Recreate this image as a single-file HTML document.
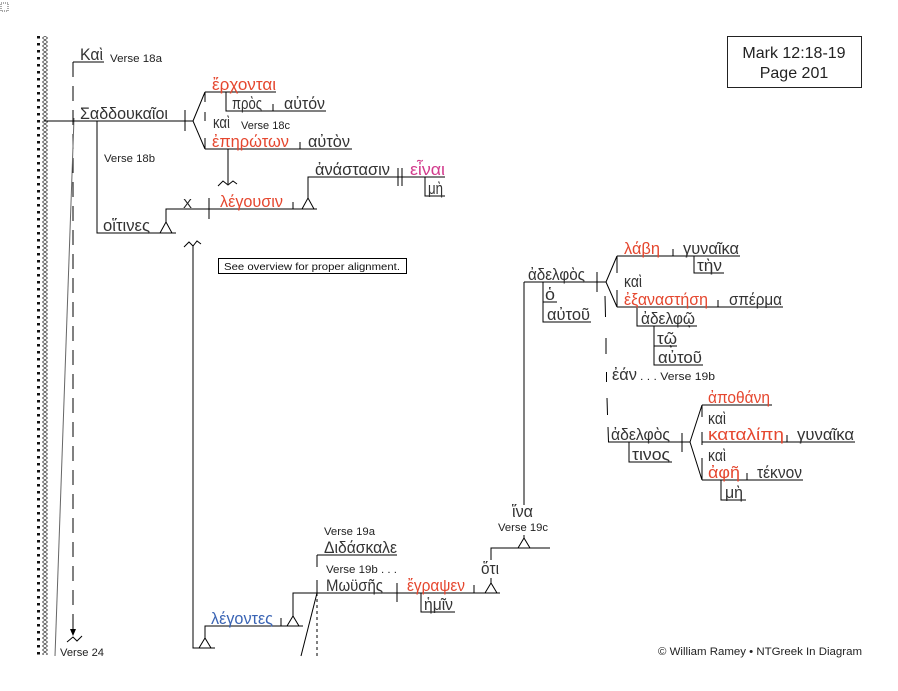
<!DOCTYPE html>
<html>
<head>
<meta charset="utf-8">
<style>
  html, body { margin: 0; padding: 0; background: #fff; }
  svg { display: block; }
  .g { font-family: "Liberation Sans", "DejaVu Sans", sans-serif; font-size: 17px; fill: #333; }
  .r { fill: #e5472f; }
  .m { fill: #d23a8c; }
  .b { fill: #3a64b4; }
  .v { font-family: "Liberation Sans", sans-serif; font-size: 11px; fill: #222; }
  .l { stroke: #000; stroke-width: 1; fill: none; }
  .t { stroke: #000; stroke-width: 1; fill: #fff; }
</style>
</head>
<body>
<svg width="898" height="691" viewBox="0 0 898 691" xmlns="http://www.w3.org/2000/svg">
  <defs>
    <pattern id="dm" width="6" height="4" patternUnits="userSpaceOnUse" x="42" y="36">
      <path d="M3 0 L5.5 2 L3 4 L0.5 2 Z" fill="none" stroke="#444" stroke-width="0.8"/>
    </pattern>
  </defs>
  <rect width="898" height="691" fill="#fff"/>

  <rect x="1" y="3" width="7" height="8" fill="none" stroke="#555" stroke-width="1" stroke-dasharray="1 1"/>

  <line x1="38.5" y1="36" x2="38.5" y2="655" stroke="#111" stroke-width="3" stroke-dasharray="2.5 4.5"/>
  <rect x="42" y="36" width="6" height="619" fill="url(#dm)"/>

  <path class="l" d="M73 62 H104"/>
  <line x1="73" y1="62" x2="73" y2="631" stroke="#000" stroke-width="1" stroke-dasharray="15 9"/>
  <polygon points="70,629 76,629 73,636" fill="#000"/>
  <polyline class="l" points="67,642 73,637 77,641 82,636"/>
  <line x1="74" y1="118" x2="55" y2="656" stroke="#666" stroke-width="1"/>

  <path class="l" d="M44 121 H193 M185 110 V131 M193 121 L205 92 M193 121 L205 149"/>
  <path class="l" d="M205 92 V102 M205 112 V121 M205 138 V149"/>
  <path class="l" d="M205 92 H276 M226 92 V111 H326 M273 104 V111"/>
  <path class="l" d="M205 149 H352 M300 142 V149"/>
  <path class="l" d="M228 149 V184"/>
  <polyline class="l" points="218,186 223,181 228,185 233,181 237,184"/>

  <path class="l" d="M97 121 V233 H176"/>
  <polygon class="t" points="160,233 166,222 172,233"/>
  <path class="l" d="M166 222 V209 H317 M209 198 V219 M293 202 V209"/>
  <polygon class="t" points="302,209 308,198 314,209"/>
  <path class="l" d="M308 198 V177 H445 M398 168 V186 M402 168 V186 M425 177 V196 H445"/>

  <rect x="218.5" y="258.5" width="188" height="15" fill="#fff" stroke="#000" stroke-width="1"/>
  <text x="224" y="270" font-family="Liberation Sans, sans-serif" font-size="10.5" fill="#111" textLength="176" lengthAdjust="spacingAndGlyphs">See overview for proper alignment.</text>

  <polyline class="l" points="184,247 189,242 193,246 197,241 201,244"/>
  <path class="l" d="M193 245 V648 H215"/>
  <polygon class="t" points="199,648 205,638 211,648"/>
  <path class="l" d="M205 638 V626 H303 M281 618 V626"/>
  <polygon class="t" points="287,626 293,616 299,626"/>
  <path class="l" d="M293 616 V593 H500"/>
  <path class="l" d="M317 555 H397 M317 555 V567 M317 580 V593"/>
  <line x1="317" y1="593" x2="317" y2="656" stroke="#000" stroke-width="1" stroke-dasharray="3 3"/>
  <line x1="317" y1="593" x2="301" y2="656" stroke="#000" stroke-width="1"/>
  <path class="l" d="M397 583 V602 M474 585 V593 M421 593 V612 H455"/>
  <polygon class="t" points="485,593 491,583 497,593"/>
  <path class="l" d="M491 583 V578 M491 560 V548 H550"/>
  <polygon class="t" points="518,548 524,538 530,548"/>
  <path class="l" d="M524 538 V535 M524 505 V282"/>

  <path class="l" d="M524 282 H606 M597 272 V292 M606 282 L617 256 M606 282 L617 307 M617 256 V273 M617 290 V307"/>
  <path class="l" d="M543 282 V322 H591 M543 302 H557"/>
  <path class="l" d="M617 256 H740 M673 249 V256 M694 256 V273 H724"/>
  <path class="l" d="M617 307 H783 M718 300 V307 M637 307 V326 H697 M654 326 V365 H703 M654 346 H677"/>
  <path class="l" d="M605 296 L605.5 317 M606 338 L606 354 M606.5 372 L606.5 382 M607 398 L607.5 415 M608 427 L608.5 442"/>

  <path class="l" d="M608 442 H690 M682 433 V452 M690 442 L702 405 M690 442 L702 480 M702 405 V417 M702 432 V445 M702 458 V480"/>
  <path class="l" d="M629 442 V462 H672"/>
  <path class="l" d="M702 405 H772 M702 442 H855 M787 435 V442 M702 480 H803 M747 473 V480 M721 480 V500 H746"/>

  <rect x="727.5" y="36.5" width="134" height="51" fill="#fff" stroke="#222" stroke-width="1"/>
  <text x="794" y="58" text-anchor="middle" font-family="Liberation Sans, sans-serif" font-size="16" fill="#222">Mark 12:18-19</text>
  <text x="794" y="78" text-anchor="middle" font-family="Liberation Sans, sans-serif" font-size="16" fill="#222">Page 201</text>

  <text class="g" x="80" y="60" font-size="18" textLength="23" lengthAdjust="spacingAndGlyphs">Καὶ</text>
  <text class="v" x="110" y="62" textLength="52" lengthAdjust="spacingAndGlyphs">Verse 18a</text>
  <text class="g" x="80" y="119" textLength="88" lengthAdjust="spacingAndGlyphs">Σαδδουκαῖοι</text>
  <text class="g r" x="212" y="90" textLength="64" lengthAdjust="spacingAndGlyphs">ἔρχονται</text>
  <text class="g" x="232" y="109" textLength="30" lengthAdjust="spacingAndGlyphs">πρὸς</text>
  <text class="g" x="284" y="109" textLength="41" lengthAdjust="spacingAndGlyphs">αὐτόν</text>
  <text class="g" x="213" y="128" textLength="17" lengthAdjust="spacingAndGlyphs">καὶ</text>
  <text class="v" x="241" y="129" textLength="49" lengthAdjust="spacingAndGlyphs">Verse 18c</text>
  <text class="g r" x="212" y="147" textLength="77" lengthAdjust="spacingAndGlyphs">ἐπηρώτων</text>
  <text class="g" x="308" y="147" textLength="42" lengthAdjust="spacingAndGlyphs">αὐτὸν</text>
  <text class="v" x="104" y="162" textLength="51" lengthAdjust="spacingAndGlyphs">Verse 18b</text>
  <text x="183" y="208" font-family="Liberation Sans, sans-serif" font-size="13" fill="#222" textLength="9" lengthAdjust="spacingAndGlyphs">X</text>
  <text class="g r" x="220" y="207" textLength="63" lengthAdjust="spacingAndGlyphs">λέγουσιν</text>
  <text class="g" x="315" y="175" textLength="75" lengthAdjust="spacingAndGlyphs">ἀνάστασιν</text>
  <text class="g m" x="410" y="175" textLength="35" lengthAdjust="spacingAndGlyphs">εἶναι</text>
  <text class="g" x="428" y="194" textLength="15" lengthAdjust="spacingAndGlyphs">μὴ</text>
  <text class="g" x="103" y="231" textLength="47" lengthAdjust="spacingAndGlyphs">οἵτινες</text>

  <text class="g" x="528" y="280" textLength="57" lengthAdjust="spacingAndGlyphs">ἀδελφὸς</text>
  <text class="g" x="545" y="300" textLength="10" lengthAdjust="spacingAndGlyphs">ὁ</text>
  <text class="g" x="547" y="320" textLength="43" lengthAdjust="spacingAndGlyphs">αὐτοῦ</text>
  <text class="g r" x="624" y="254" textLength="36" lengthAdjust="spacingAndGlyphs">λάβη</text>
  <text class="g" x="683" y="254" textLength="56" lengthAdjust="spacingAndGlyphs">γυναῖκα</text>
  <text class="g" x="697" y="271" textLength="25" lengthAdjust="spacingAndGlyphs">τὴν</text>
  <text class="g" x="624" y="287" textLength="18" lengthAdjust="spacingAndGlyphs">καὶ</text>
  <text class="g r" x="624" y="305" textLength="84" lengthAdjust="spacingAndGlyphs">ἐξαναστήση</text>
  <text class="g" x="729" y="305" textLength="53" lengthAdjust="spacingAndGlyphs">σπέρμα</text>
  <text class="g" x="641" y="324" textLength="54" lengthAdjust="spacingAndGlyphs">ἀδελφῷ</text>
  <text class="g" x="657" y="344" textLength="20" lengthAdjust="spacingAndGlyphs">τῷ</text>
  <text class="g" x="658" y="363" textLength="44" lengthAdjust="spacingAndGlyphs">αὐτοῦ</text>
  <text class="g" x="612" y="380" textLength="25" lengthAdjust="spacingAndGlyphs">ἐάν</text>
  <text class="v" x="640" y="380" textLength="75" lengthAdjust="spacingAndGlyphs">. . . Verse 19b</text>

  <text class="g r" x="708" y="403" textLength="62" lengthAdjust="spacingAndGlyphs">ἀποθάνη</text>
  <text class="g" x="708" y="424" textLength="18" lengthAdjust="spacingAndGlyphs">καὶ</text>
  <text class="g r" x="708" y="440" textLength="76" lengthAdjust="spacingAndGlyphs">καταλίπη</text>
  <text class="g" x="797" y="440" textLength="57" lengthAdjust="spacingAndGlyphs">γυναῖκα</text>
  <text class="g" x="708" y="461" textLength="18" lengthAdjust="spacingAndGlyphs">καὶ</text>
  <text class="g r" x="708" y="478" textLength="32" lengthAdjust="spacingAndGlyphs">ἀφῆ</text>
  <text class="g" x="757" y="478" textLength="45" lengthAdjust="spacingAndGlyphs">τέκνον</text>
  <text class="g" x="725" y="498" textLength="18" lengthAdjust="spacingAndGlyphs">μὴ</text>
  <text class="g" x="611" y="440" textLength="59" lengthAdjust="spacingAndGlyphs">ἀδελφὸς</text>
  <text class="g" x="632" y="460" textLength="38" lengthAdjust="spacingAndGlyphs">τινος</text>

  <text class="g" x="512" y="517" textLength="21" lengthAdjust="spacingAndGlyphs">ἵνα</text>
  <text class="v" x="498" y="531" textLength="50" lengthAdjust="spacingAndGlyphs">Verse 19c</text>
  <text class="g" x="481" y="574" textLength="18" lengthAdjust="spacingAndGlyphs">ὅτι</text>

  <text class="v" x="324" y="535" textLength="51" lengthAdjust="spacingAndGlyphs">Verse 19a</text>
  <text class="g" x="324" y="553" textLength="73" lengthAdjust="spacingAndGlyphs">Διδάσκαλε</text>
  <text class="v" x="326" y="573" textLength="71" lengthAdjust="spacingAndGlyphs">Verse 19b . . .</text>
  <text class="g" x="326" y="591" textLength="57" lengthAdjust="spacingAndGlyphs">Μωϋσῆς</text>
  <text class="g r" x="407" y="591" textLength="58" lengthAdjust="spacingAndGlyphs">ἔγραψεν</text>
  <text class="g" x="424" y="610" textLength="29" lengthAdjust="spacingAndGlyphs">ἡμῖν</text>
  <text class="g b" x="211" y="624" textLength="62" lengthAdjust="spacingAndGlyphs">λέγοντες</text>

  <text class="v" x="60" y="656" textLength="44" lengthAdjust="spacingAndGlyphs">Verse 24</text>
  <text class="v" x="658" y="655" textLength="204" lengthAdjust="spacingAndGlyphs">© William Ramey • NTGreek In Diagram</text>
</svg>
</body>
</html>
